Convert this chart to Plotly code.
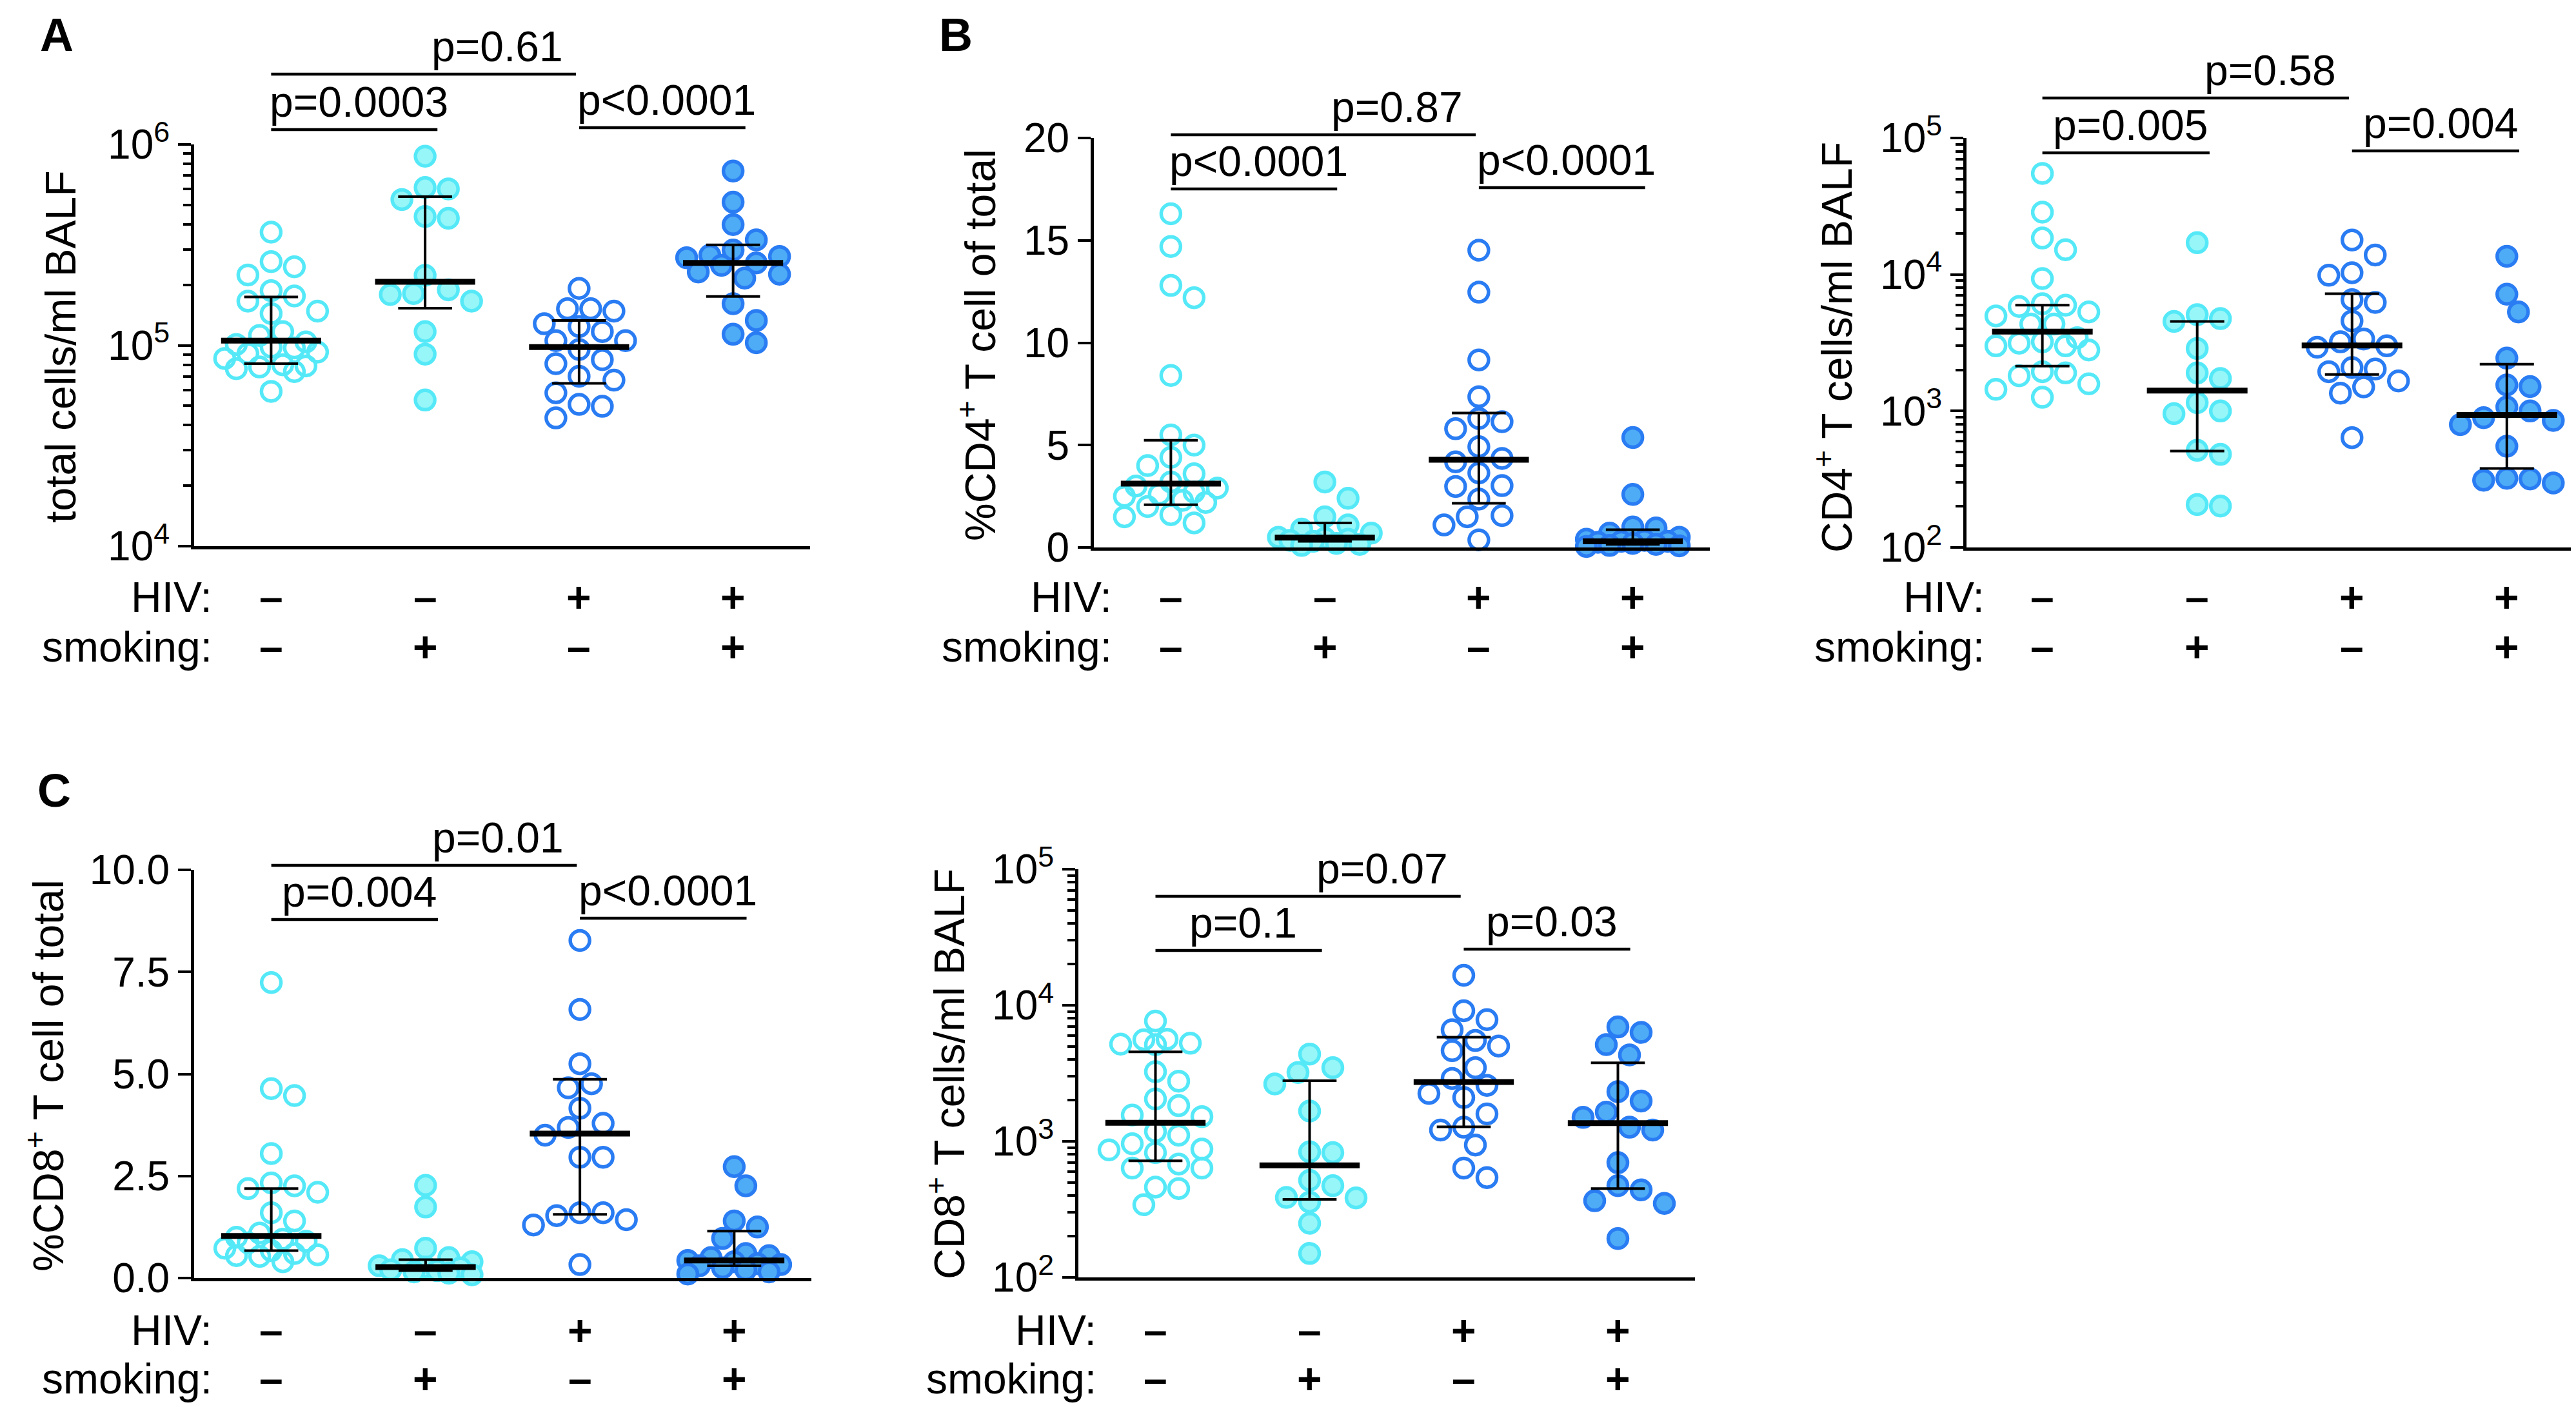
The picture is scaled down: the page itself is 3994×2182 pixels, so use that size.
import plotly.graph_objects as go
import numpy as np

W, H = 3994, 2182
FONT = "Liberation Sans, Arial, Helvetica, sans-serif"

CYAN = "#55E9F8"
CYAN_FILL = "#97F6F8"
BLUE = "#2A7CF3"
BLUE_FILL = "#4DACF5"

hiv_labels = ["–", "–", "+", "+"]
smoking_labels = ["–", "+", "–", "+"]

# ---------------- Panel A: total cells/ml BALF ----------------
A_g0 = [3.66e5, 2.61e5, 2.46e5, 2.24e5, 1.87e5, 1.76e5, 1.66e5, 1.48e5, 1.44e5, 1.17e5, 1.12e5, 1.04e5,
        1.01e5, 9.8e4, 9.7e4, 9.25e4, 9.1e4, 8.6e4, 8.0e4, 7.9e4, 7.8e4, 7.65e4, 7.4e4, 5.9e4]
A_g1 = [8.74e5, 6.10e5, 6.01e5, 5.32e5, 4.38e5, 4.29e5, 2.23e5, 1.89e5, 1.81e5, 1.79e5, 1.66e5, 1.17e5,
        9.04e4, 5.34e4]
A_g2 = [1.92e5, 1.52e5, 1.52e5, 1.48e5, 1.28e5, 1.24e5, 1.17e5, 1.055e5, 1.055e5, 9.53e4, 8.48e4, 8.1e4,
        7.01e4, 6.71e4, 5.80e4, 5.08e4, 4.97e4, 4.35e4]
A_g3 = [7.37e5, 5.16e5, 3.99e5, 3.35e5, 2.98e5, 2.81e5, 2.77e5, 2.73e5, 2.57e5, 2.50e5, 2.32e5, 2.26e5,
        2.16e5, 1.61e5, 1.33e5, 1.135e5, 1.03e5]
A_med = [1.055e5, 2.07e5, 9.8e4, 2.57e5]
A_q3 = [1.74e5, 5.50e5, 1.33e5, 3.16e5]
A_q1 = [8.1e4, 1.53e5, 6.46e4, 1.75e5]

# ---------------- Panel B left: %CD4+ T cell of total ----------------
B1_g0 = [16.3, 14.7, 12.8, 12.2, 8.4, 5.5, 5.0, 4.4, 4.0, 3.6, 3.2, 3.0, 2.9, 2.7, 2.6, 2.5, 2.3, 2.2, 2.0,
         1.6, 1.5, 1.2]
B1_g1 = [3.2, 2.4, 1.5, 1.1, 0.9, 0.7, 0.5, 0.45, 0.4, 0.35, 0.3, 0.2, 0.15, 0.1]
B1_g2 = [14.52, 12.47, 9.16, 7.36, 6.30, 6.14, 5.80, 4.92, 4.35, 4.18, 3.64, 3.02, 2.98, 2.36, 1.56, 1.50,
         1.10, 0.37]
B1_g3 = [5.37, 2.59, 1.0, 0.95, 0.7, 0.5, 0.4, 0.35, 0.3, 0.3, 0.25, 0.2, 0.15, 0.1, 0.08, 0.05]
B1_med = [3.12, 0.48, 4.28, 0.30]
B1_q3 = [5.24, 1.2, 6.57, 0.87]
B1_q1 = [2.09, 0.30, 2.16, 0.15]

# ---------------- Panel B right: CD4+ T cells/ml BALF ----------------
B2_g0 = [5.50e4, 2.86e4, 1.85e4, 1.52e4, 9.34e3, 6.10e3, 5.96e3, 5.83e3, 5.32e3, 4.97e3, 4.33e3, 4.33e3,
         3.44e3, 3.21e3, 3.14e3, 3.00e3, 3.00e3, 2.80e3, 1.94e3, 1.90e3, 1.81e3, 1.58e3, 1.44e3, 1.26e3]
B2_g1 = [1.71e4, 5.08e3, 4.75e3, 4.53e3, 2.87e3, 1.90e3, 1.73e3, 1.15e3, 1.00e3, 9.56e2, 5.15e2, 4.81e2,
         2.06e2, 2.01e2]
B2_g2 = [1.79e4, 1.39e4, 1.03e4, 9.87e3, 6.54e3, 6.24e3, 4.57e3, 3.37e3, 3.21e3, 3.00e3, 2.93e3, 2.08e3,
         2.03e3, 1.94e3, 1.66e3, 1.50e3, 1.35e3, 6.38e2]
B2_g3 = [1.36e4, 7.17e3, 5.32e3, 2.44e3, 1.55e3, 1.51e3, 1.07e3, 1.00e3, 8.93e2, 8.52e2, 7.95e2, 5.52e2,
         3.21e2, 3.18e2, 3.11e2, 2.97e2]
B2_med = [3.81e3, 1.41e3, 3.02e3, 9.34e2]
B2_q3 = [5.96e3, 4.53e3, 7.23e3, 2.2e3]
B2_q1 = [2.13e3, 5.08e2, 1.85e3, 3.79e2]

# ---------------- Panel C left: %CD8+ T cell of total ----------------
C1_g0 = [7.24, 4.64, 4.47, 3.05, 2.33, 2.26, 2.19, 2.10, 1.60, 1.40, 1.10, 1.00, 0.95, 0.90, 0.86, 0.73,
         0.67, 0.60, 0.57, 0.55, 0.53, 0.40]
C1_g1 = [2.27, 1.74, 0.73, 0.5, 0.45, 0.4, 0.3, 0.27, 0.25, 0.2, 0.18, 0.15, 0.12, 0.08]
C1_g2 = [8.27, 6.58, 5.25, 4.76, 4.66, 4.16, 3.79, 3.69, 3.5, 2.96, 2.96, 1.60, 1.60, 1.53, 1.43, 1.30, 0.33]
C1_g3 = [2.73, 2.26, 1.40, 1.25, 0.97, 0.6, 0.55, 0.5, 0.43, 0.4, 0.35, 0.33, 0.3, 0.25, 0.2, 0.15, 0.1]
C1_med = [1.03, 0.27, 3.54, 0.43]
C1_q3 = [2.19, 0.45, 4.87, 1.15]
C1_q1 = [0.67, 0.18, 1.56, 0.30]

# ---------------- Panel C right: CD8+ T cells/ml BALF ----------------
C2_g0 = [7.66e3, 5.63e3, 5.58e3, 5.26e3, 5.18e3, 5.14e3, 3.25e3, 2.77e3, 2.05e3, 1.83e3, 1.56e3, 1.52e3,
         1.18e3, 1.11e3, 9.6e2, 8.77e2, 8.65e2, 8.26e2, 6.81e2, 6.36e2, 6.36e2, 4.61e2, 4.50e2, 3.42e2]
C2_g1 = [4.38e3, 3.48e3, 3.21e3, 2.64e3, 1.67e3, 8.37e2, 8.26e2, 5.17e2, 4.72e2, 3.87e2, 3.84e2, 3.58e2,
         2.50e2, 1.50e2]
C2_g2 = [1.66e4, 9.12e3, 7.84e3, 6.61e3, 5.51e3, 5.02e3, 4.64e3, 3.48e3, 2.90e3, 2.58e3, 2.25e3, 2.10e3,
         1.59e3, 1.27e3, 1.21e3, 9.40e2, 6.36e2, 5.42e2]
C2_g3 = [6.93e3, 6.32e3, 5.14e3, 4.32e3, 2.32e3, 1.98e3, 1.64e3, 1.50e3, 1.27e3, 1.21e3, 6.97e2, 4.72e2,
         4.40e2, 3.66e2, 3.50e2, 1.93e2]
C2_med = [1.37e3, 6.66e2, 2.73e3, 1.36e3]
C2_q3 = [4.54e3, 2.79e3, 5.82e3, 3.78e3]
C2_q1 = [7.19e2, 3.75e2, 1.28e3, 4.50e2]

# p-value brackets: (group i, group j, text)
A_p = [(0, 2, "p=0.61"), (0, 1, "p=0.0003"), (2, 3, "p<0.0001")]
B1_p = [(0, 2, "p=0.87"), (0, 1, "p<0.0001"), (2, 3, "p<0.0001")]
B2_p = [(0, 2, "p=0.58"), (0, 1, "p=0.005"), (2, 3, "p=0.004")]
C1_p = [(0, 2, "p=0.01"), (0, 1, "p=0.004"), (2, 3, "p<0.0001")]
C2_p = [(0, 2, "p=0.07"), (0, 1, "p=0.1"), (2, 3, "p=0.03")]


def sup_ticks(lo, hi):
    vals = [10 ** k for k in range(lo, hi + 1)]
    txt = ["10<sup>%d</sup>" % k for k in range(lo, hi + 1)]
    minor = [m * 10 ** k for k in range(lo, hi) for m in range(2, 10)]
    return vals, txt, minor


panels = [
    dict(letter="A", letter_xy=(80, 46), xdom=(293, 1248), ydom=(216, 839), xr=(-0.5, 3.5),
         ytype="log", yr=(4, 6), ticks=sup_ticks(4, 6),
         groups=[A_g0, A_g1, A_g2, A_g3], med=A_med, q1=A_q1, q3=A_q3,
         title="total cells/ml BALF", title_xy=(86, 530),
         rows=(918, 995), brackets=A_p, bys=(107, 193, 190)),
    dict(letter="B", letter_xy=(1474, 46), xdom=(1688, 2643), ydom=(206, 841), xr=(-0.5, 3.5),
         ytype="linear", yr=(0, 20), ticks=([0, 5, 10, 15, 20], ["0", "5", "10", "15", "20"], None),
         groups=[B1_g0, B1_g1, B1_g2, B1_g3], med=B1_med, q1=B1_q1, q3=B1_q3,
         title="%CD4<sup>+</sup> T cell of total", title_xy=(1507, 527),
         rows=(918, 995), brackets=B1_p, bys=(201, 285, 283)),
    dict(letter=None, xdom=(3041, 3994), ydom=(206, 841), xr=(-0.49, 3.48),
         ytype="log", yr=(2, 5), ticks=sup_ticks(2, 5),
         groups=[B2_g0, B2_g1, B2_g2, B2_g3], med=B2_med, q1=B2_q1, q3=B2_q3,
         title="CD4<sup>+</sup> T cells/ml BALF", title_xy=(2835, 531),
         rows=(918, 995), brackets=B2_p, bys=(144, 229, 226)),
    dict(letter="C", letter_xy=(76, 1218), xdom=(293, 1250), ydom=(1341, 1974), xr=(-0.5, 3.5),
         ytype="linear", yr=(0, 10),
         ticks=([0, 2.5, 5, 7.5, 10], ["0.0", "2.5", "5.0", "7.5", "10.0"], None),
         groups=[C1_g0, C1_g1, C1_g2, C1_g3], med=C1_med, q1=C1_q1, q3=C1_q3,
         title="%CD8<sup>+</sup> T cell of total", title_xy=(62, 1660),
         rows=(2055, 2130), brackets=C1_p, bys=(1334, 1418, 1416)),
    dict(letter=None, xdom=(1664, 2620), ydom=(1340, 1973), xr=(-0.5, 3.5),
         ytype="log", yr=(2, 5), ticks=sup_ticks(2, 5),
         groups=[C2_g0, C2_g1, C2_g2, C2_g3], med=C2_med, q1=C2_q1, q3=C2_q3,
         title="CD8<sup>+</sup> T cells/ml BALF", title_xy=(1459, 1658),
         rows=(2055, 2130), brackets=C2_p, bys=(1382, 1466, 1464)),
]

styles = [
    dict(symbol="circle-open", color=CYAN, line=dict(color=CYAN, width=5.5)),
    dict(symbol="circle", color=CYAN_FILL, line=dict(color=CYAN, width=5.5)),
    dict(symbol="circle-open", color=BLUE, line=dict(color=BLUE, width=5.5)),
    dict(symbol="circle", color=BLUE_FILL, line=dict(color=BLUE, width=5.5)),
]

MSIZE = 30
DIAM = 36.0
SPREAD_CAP = 82.0  # max horizontal offset in px


def fx(x):
    return x / W


def fy(y):
    return 1 - y / H


def ypix_fn(p):
    top, bot = p["ydom"]
    r0, r1 = p["yr"]

    def f(v):
        t = np.log10(v) if p["ytype"] == "log" else v
        return top + (r1 - t) / (r1 - r0) * (bot - top)
    return f


def swarm(vals, yfn, unit_px):
    order = np.argsort(vals)[::-1]
    placed = []
    xs = np.zeros(len(vals))
    step = DIAM * 0.5
    thr = DIAM * 0.9
    nmax = int(SPREAD_CAP // step)
    cands = [0.0]
    for k in range(1, nmax + 1):
        cands += [k * step, -k * step]
    for idx in order:
        yp = yfn(vals[idx])
        best, best_d = None, -1
        for c in cands:
            d = min([np.hypot(c - a, yp - b) for a, b in placed] + [1e9])
            if d >= thr:
                best = c
                break
            if d > best_d:
                best_d, best = d, c
        placed.append((best, yp))
        xs[idx] = best / unit_px
    return xs


fig = go.Figure()
shapes = []
annotations = []
layout_axes = {}

for k, p in enumerate(panels):
    sfx = "" if k == 0 else str(k + 1)
    xa, ya = "x" + sfx, "y" + sfx
    unit_px = (p["xdom"][1] - p["xdom"][0]) / (p["xr"][1] - p["xr"][0])
    yfn = ypix_fn(p)

    for g, vals in enumerate(p["groups"]):
        offs = swarm(vals, yfn, unit_px)
        st = styles[g]
        fig.add_trace(go.Scatter(
            x=g + offs, y=vals, mode="markers", xaxis=xa, yaxis=ya, cliponaxis=False,
            marker=dict(symbol=st["symbol"], size=MSIZE, color=st["color"], line=st["line"]),
            showlegend=False, hoverinfo="y"))

    ex, ey = [], []
    for g in range(4):
        ex += [g, g, None, g - 0.175, g + 0.175, None, g - 0.175, g + 0.175, None]
        ey += [p["q1"][g], p["q3"][g], None, p["q1"][g], p["q1"][g], None, p["q3"][g], p["q3"][g], None]
    fig.add_trace(go.Scatter(x=ex, y=ey, mode="lines", xaxis=xa, yaxis=ya, cliponaxis=False,
                             line=dict(color="black", width=4), showlegend=False, hoverinfo="skip"))
    mx, my = [], []
    for g in range(4):
        mx += [g - 0.325, g + 0.325, None]
        my += [p["med"][g], p["med"][g], None]
    fig.add_trace(go.Scatter(x=mx, y=my, mode="lines", xaxis=xa, yaxis=ya, cliponaxis=False,
                             line=dict(color="black", width=9), showlegend=False, hoverinfo="skip"))

    tv, tt, minor = p["ticks"]
    yax = dict(domain=[fy(p["ydom"][1]), fy(p["ydom"][0])], type=p["ytype"], range=list(p["yr"]),
               tickmode="array", tickvals=tv, ticktext=tt, ticks="outside", ticklen=20, tickwidth=4,
               tickcolor="black", showline=True, linewidth=5, linecolor="black", showgrid=False,
               zeroline=False, anchor=xa, automargin=False,
               tickfont=dict(family=FONT, size=64, color="black"), fixedrange=True)
    if minor is not None:
        yax["minor"] = dict(tickmode="array", tickvals=minor, ticks="outside", ticklen=12, tickwidth=4,
                            tickcolor="black", showgrid=False)
    xax = dict(domain=[fx(p["xdom"][0]), fx(p["xdom"][1])], range=list(p["xr"]), showline=True,
               linewidth=5, linecolor="black", showticklabels=False, ticks="", showgrid=False,
               zeroline=False, anchor=ya, automargin=False, fixedrange=True)
    layout_axes["xaxis" + sfx] = xax
    layout_axes["yaxis" + sfx] = yax

    annotations.append(dict(text=p["title"], x=fx(p["title_xy"][0]), y=fy(p["title_xy"][1]),
                            xref="paper", yref="paper", textangle=-90, showarrow=False,
                            xanchor="center", yanchor="middle",
                            font=dict(family=FONT, size=66, color="black")))
    if p["letter"]:
        annotations.append(dict(text="<b>%s</b>" % p["letter"], x=fx(p["letter_xy"][0]),
                                y=fy(p["letter_xy"][1]), xref="paper", yref="paper", showarrow=False,
                                xanchor="center", yanchor="middle",
                                font=dict(family=FONT, size=72, color="black")))
    lab_x = fx(p["xdom"][0] + 30)
    for rowy, lab, signs in [(p["rows"][0], "HIV:", hiv_labels), (p["rows"][1], "smoking:", smoking_labels)]:
        annotations.append(dict(text=lab, x=lab_x, y=fy(rowy), xref="paper", yref="paper",
                                showarrow=False, xanchor="right", yanchor="middle",
                                font=dict(family=FONT, size=66, color="black")))
        for g, s in enumerate(signs):
            annotations.append(dict(text="<b>%s</b>" % s, x=g, y=fy(rowy), xref=xa, yref="paper",
                                    showarrow=False, xanchor="center", yanchor="middle",
                                    font=dict(family=FONT, size=66, color="black")))
    for (i, j, txt), ly in zip(p["brackets"], p["bys"]):
        if j - i > 1:
            x0, x1, tx = i, j - 0.02, 1.47
        else:
            x0, x1 = i, j + 0.08
            tx = (x0 + x1) / 2 + 0.03
        shapes.append(dict(type="line", xref=xa, yref="paper", x0=x0, x1=x1, y0=fy(ly), y1=fy(ly),
                           line=dict(color="black", width=4.5)))
        annotations.append(dict(text=txt, x=tx, y=fy(ly - 4), xref=xa, yref="paper", showarrow=False,
                                xanchor="center", yanchor="bottom",
                                font=dict(family=FONT, size=66, color="black")))

fig.update_layout(
    width=W, height=H, margin=dict(l=0, r=0, t=0, b=0, pad=0, autoexpand=False),
    paper_bgcolor="white", plot_bgcolor="white",
    font=dict(family=FONT, color="black"),
    shapes=shapes, annotations=annotations, showlegend=False,
    **layout_axes)

fig.write_html("out.html")
